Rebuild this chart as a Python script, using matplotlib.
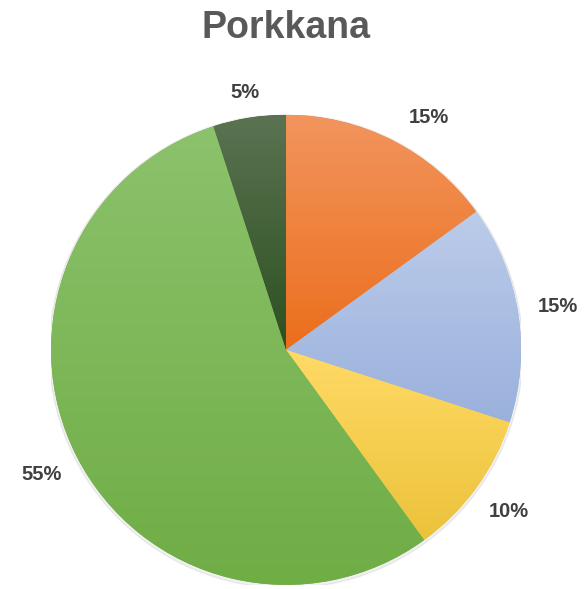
import numpy as np
import matplotlib.pyplot as plt
from matplotlib.colors import LinearSegmentedColormap

title = "Porkkana"
shares = [15, 15, 10, 55, 5]
labels = ["15%", "15%", "10%", "55%", "5%"]
# (top colour, bottom colour) for each slice's vertical gradient
top_colors = ["#F2955E", "#BCCCEA", "#FFDA66", "#8CC26C", "#5B7352"]
bottom_colors = ["#EC6E1C", "#9AB1DC", "#ECC23A", "#6FAD45", "#2C5020"]

plt.rcParams['font.family'] = ['Liberation Sans', 'DejaVu Sans']

fig = plt.figure(figsize=(5.87, 5.89), dpi=100)
ax = fig.add_axes([0.087, 0.007, 0.8007, 0.798])

wedges, texts = ax.pie(
    shares, labels=labels, startangle=90, counterclock=False,
    labeldistance=1.17, colors=bottom_colors,
    wedgeprops=dict(linewidth=0),
    textprops=dict(fontsize=14.5, fontweight='bold', color='#404040'),
)
for t in texts:
    t.set_ha('center')
    t.set_va('center')
# top label sits a little closer to the rim
x, y = texts[-1].get_position()
texts[-1].set_position((x / 1.17 * 1.11, y / 1.17 * 1.11))
# first label is pushed a little clockwise, away from the title
a = np.deg2rad(58.5)
texts[0].set_position((1.16 * np.cos(a), 1.16 * np.sin(a)))

# subtle shadow around the rim
shadow = plt.Circle((0.0, -0.006), 1.008, color='#000000', alpha=0.06, zorder=0)
ax.add_patch(shadow)

# vertical gradient in every slice, clipped to its wedge
for w, c_top, c_bot in zip(wedges, top_colors, bottom_colors):
    path = w.get_path().transformed(w.get_patch_transform())
    verts = path.vertices
    x0, x1 = verts[:, 0].min(), verts[:, 0].max()
    y0, y1 = verts[:, 1].min(), verts[:, 1].max()
    cmap = LinearSegmentedColormap.from_list('g', [c_bot, c_top])
    grad = np.linspace(0, 1, 256).reshape(-1, 1)
    im = ax.imshow(grad, cmap=cmap, origin='lower', aspect='auto',
                   extent=[x0, x1, y0, y1], zorder=2, interpolation='bicubic')
    im.set_clip_path(w)

ax.set_xlim(-1.0, 1.0)
ax.set_ylim(-1.0, 1.0)
ax.set_aspect('equal')
ax.axis('off')

fig.text(0.487, 0.952, title, ha='center', va='center', fontsize=27,
         fontweight='bold', color='#595959')

fig.savefig('out.png', dpi=100)
